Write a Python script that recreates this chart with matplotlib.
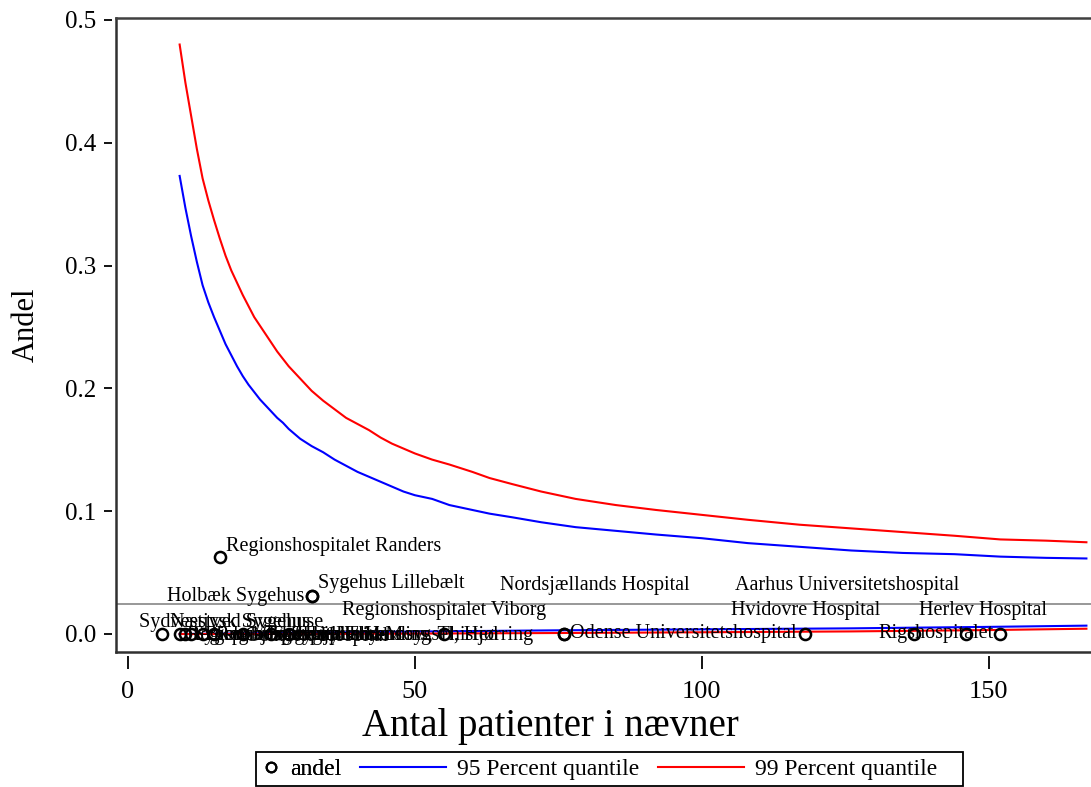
import matplotlib
matplotlib.use('Agg')
import matplotlib.pyplot as plt
from matplotlib.lines import Line2D
from matplotlib.patches import Rectangle

plt.rcParams['font.family'] = ['Liberation Serif', 'DejaVu Serif']

# funnel limits
n_up = [9, 10, 11, 12, 13, 14, 15, 16, 17, 18, 19, 20, 21, 22, 23, 24, 25, 26, 27, 28, 29, 30,
        32, 34, 36, 38, 40, 42, 44, 46, 48, 50, 53, 56, 60, 63, 67, 72, 78, 85, 92, 100, 108,
        117, 126, 135, 144, 152, 160, 167]
q95_up = [0.373, 0.347, 0.324, 0.303, 0.284, 0.270, 0.258, 0.247, 0.236, 0.227, 0.218, 0.210,
          0.203, 0.197, 0.191, 0.186, 0.181, 0.176, 0.172, 0.167, 0.163, 0.159, 0.153, 0.148,
          0.142, 0.137, 0.132, 0.128, 0.124, 0.120, 0.116, 0.113, 0.110, 0.105, 0.101, 0.098,
          0.095, 0.091, 0.087, 0.084, 0.081, 0.078, 0.074, 0.071, 0.068, 0.066, 0.065, 0.063,
          0.062, 0.0615]
q99_up = [0.480, 0.449, 0.422, 0.395, 0.371, 0.353, 0.337, 0.322, 0.308, 0.296, 0.286, 0.276,
          0.267, 0.258, 0.251, 0.244, 0.237, 0.230, 0.224, 0.218, 0.213, 0.208, 0.198, 0.190,
          0.183, 0.176, 0.171, 0.166, 0.160, 0.155, 0.151, 0.147, 0.142, 0.138, 0.132, 0.127,
          0.122, 0.116, 0.110, 0.105, 0.101, 0.097, 0.093, 0.089, 0.086, 0.083, 0.080, 0.077,
          0.076, 0.0747]
n_low = [9, 20, 30, 50, 75, 100, 126, 150, 167]
q95_low = [0.0, 0.0005, 0.0011, 0.002, 0.003, 0.0038, 0.0046, 0.0058, 0.0068]
q99_low = [0.0, 0.0, 0.0, 0.0003, 0.0008, 0.0014, 0.0021, 0.0032, 0.0043]
ref_level = 0.0245

# hospitals
names = ['Regionshospitalet Randers', 'Sygehus Lillebælt', 'Holbæk Sygehus', 'Sydvestjysk Sygehus',
         'Næstved Sygehuse', 'Regionshospitalet Horsens', 'Sygehus Sønderjylland', 'Bispebjerg Hospital',
         'Regionshospitalet Herning', 'Gentofte Hospital', 'Sygehus Thy-Mors, Thisted',
         'Sygehus Vendsyssel, Hjørring', 'Regionshospitalet Viborg', 'Nordsjællands Hospital',
         'Odense Universitetshospital', 'Hvidovre Hospital', 'Aarhus Universitetshospital',
         'Herlev Hospital', 'Rigshospitalet']
n_pat = [16, 32, 32, 6, 9, 10, 11, 13, 15, 20, 25, 28, 55, 76, 76, 118, 137, 146, 152]
andel = [0.0625, 0.03125, 0.03125, 0, 0, 0, 0, 0, 0, 0, 0, 0, 0, 0, 0, 0, 0, 0, 0]

# label placement (pixels from point)
lab_dx = [6, 6, -7, -23, -10, 2, 2, 2, 2, 2, 2, 2, 0, 31, 6, 0, -67, 17, -7]
lab_dy = [11, 12, -1, 11, 11, -2, -2, -2, -2, -2, -2, -2, 23, 48, 0, 23, 48, 23, 0]
lab_ha = ['left', 'left', 'right', 'left', 'left', 'left', 'left', 'left', 'left', 'left', 'left', 'left',
          'center', 'center', 'left', 'center', 'center', 'center', 'right']

W, H = 1091, 787
fig = plt.figure(figsize=(W / 100, H / 100), dpi=100)
ax = fig.add_axes([116 / W, (H - 652) / H, (W - 116) / W, 634 / H])

ax.axhline(ref_level, color='#909090', lw=1.3, zorder=1)
ax.plot(n_up, q95_up, color='#0000ff', lw=1.5, zorder=2)
ax.plot(n_low, q95_low, color='#0000ff', lw=1.5, zorder=2)
ax.plot(n_up, q99_up, color='#ff0000', lw=1.5, zorder=2)
ax.plot(n_low, q99_low, color='#ff0000', lw=1.5, zorder=2)
ax.plot(n_pat, andel, ls='', marker='o', ms=8, mfc='none', mec='black', mew=1.8, zorder=3)

for i in range(len(names)):
    ax.annotate(names[i], (n_pat[i], andel[i]), xytext=(lab_dx[i], lab_dy[i]), textcoords='offset pixels',
                ha=lab_ha[i], va='center', fontsize=14.5, zorder=4)

ax.set_xlim(-2.09, 167.8)
ax.set_ylim(-0.01466, 0.5016)
ax.set_xticks([0, 50, 100, 150])
ax.set_yticks([0.0, 0.1, 0.2, 0.3, 0.4, 0.5])
ax.set_yticklabels(['0.0', '0.1', '0.2', '0.3', '0.4', '0.5'])

for s in ['left', 'bottom', 'right']:
    ax.spines[s].set_visible(False)
ax.spines['left'].set_position(('outward', 3))
ax.spines['bottom'].set_position(('outward', 3))
ax.spines['top'].set_color('#404040')
ax.spines['top'].set_linewidth(1.8)
ax.plot([0, 0], [0, 1], transform=ax.transAxes, color='#303030', lw=1.8, clip_on=False)
ax.plot([0, 1], [0, 0], transform=ax.transAxes, color='#303030', lw=1.8, clip_on=False)

ax.tick_params(axis='x', length=9, width=1.3, pad=9, labelsize=19)
ax.tick_params(axis='y', length=6, width=1.3, pad=5, labelsize=18)

ax.set_xlabel('Antal patienter i nævner', fontsize=28, va='top')
ax.xaxis.set_label_coords(0.445, -0.088)
ax.set_ylabel('Andel', fontsize=22)
ax.yaxis.set_label_coords(-0.077, 0.516)

# legend, drawn as two pieces inside one frame
yc = (H - 769) / H
h1 = [Line2D([], [], ls='', marker='o', ms=7, mfc='none', mec='black', mew=1.5)]
leg1 = fig.legend(h1, ['andel'], loc='center left', bbox_to_anchor=(259 / W, yc), frameon=False,
                  fontsize=17, handlelength=1.0, handletextpad=0.3, borderpad=0, borderaxespad=0)
h2 = [Line2D([], [], color='#0000ff', lw=1.5), Line2D([], [], color='#ff0000', lw=1.5)]
leg2 = fig.legend(h2, ['95 Percent quantile', '99 Percent quantile'], loc='center left',
                  bbox_to_anchor=(360 / W, yc), frameon=False, ncol=2, fontsize=17, handlelength=3.65,
                  handletextpad=0.45, columnspacing=0.8, borderpad=0, borderaxespad=0)
fig.add_artist(leg1)
fig.patches.append(Rectangle((256 / W, 1.5 / H), 707 / W, 34 / H, transform=fig.transFigure,
                             fill=False, ec='black', lw=1.3))

fig.savefig('out.png', dpi=100)
